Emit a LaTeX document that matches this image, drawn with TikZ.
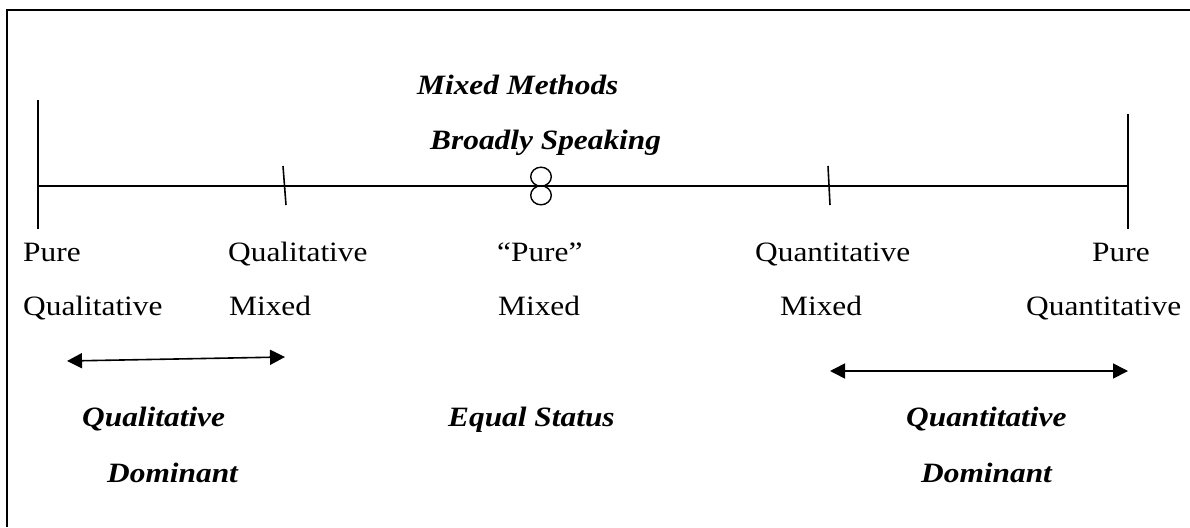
\documentclass[tikz,border=0pt]{standalone}
\usepackage{fontspec}
\usepackage{graphicx}
\setmainfont{Liberation Serif}
\usetikzlibrary{arrows.meta}
\newcommand\sxx[1]{\scalebox{1.12}[1]{#1}}
\tikzset{
  lbl/.style={anchor=base west, inner sep=0pt, font=\fontsize{28}{32}\selectfont},
  bilbl/.style={lbl, font=\fontsize{28}{32}\selectfont\bfseries\itshape},
  ln/.style={line width=1.6pt, black},
  dbl/.style={line width=1.6pt, {Triangle[length=15pt,width=15pt]}-{Triangle[length=15pt,width=15pt]}}
}
\begin{document}
\begin{tikzpicture}[x=1pt,y=-1pt]
\useasboundingbox (0,0) rectangle (1190,527);
% frame (left and top edges visible)
\draw[line width=2.5pt] (7,527) -- (7,10) -- (1190,10);
% main axis
\coordinate (L) at (38,186);
\coordinate (R) at (1128,186);
\draw[ln] (L) -- (R);
\coordinate (Lt) at (38,100); \coordinate (Lb) at (38,229);
\draw[ln] (Lt) -- (Lb);
\coordinate (Rt) at (1128,114); \coordinate (Rb) at (1128,229);
\draw[ln] (Rt) -- (Rb);
\coordinate (T1t) at (283,166); \coordinate (T1b) at (286,205);
\draw[ln] (T1t) -- (T1b);
\coordinate (T2t) at (828,166); \coordinate (T2b) at (830,205);
\draw[ln] (T2t) -- (T2b);
% center symbol
\draw[line width=1.4pt] (541,176.7) ellipse [x radius=10.3, y radius=9.5];
\draw[line width=1.4pt] (541,195.3) ellipse [x radius=10.3, y radius=9.5];
% top labels
\node[bilbl] (mm) at (417,94) {\sxx{Mixed Methods}};
\node[bilbl] (bs) at (430,149) {\sxx{Broadly Speaking}};
% row labels
\node[lbl] (p1) at (23,261) {\sxx{Pure}};
\node[lbl] (q1) at (23,315) {\sxx{Qualitative}};
\node[lbl] (p2) at (228,261) {\sxx{Qualitative}};
\node[lbl] (q2) at (229,315) {\sxx{Mixed}};
\node[lbl] (p3) at (497,261) {\sxx{“Pure”}};
\node[lbl] (q3) at (498,315) {\sxx{Mixed}};
\node[lbl] (p4) at (755,261) {\sxx{Quantitative}};
\node[lbl] (q4) at (780,315) {\sxx{Mixed}};
\node[lbl] (p5) at (1092,261) {\sxx{Pure}};
\node[lbl] (q5) at (1026,315) {\sxx{Quantitative}};
% arrows
\coordinate (a1) at (67,361); \coordinate (a2) at (285,357);
\draw[dbl] (a1) -- (a2);
\coordinate (b1) at (830,371); \coordinate (b2) at (1128,371);
\draw[dbl] (b1) -- (b2);
% bottom labels
\node[bilbl] (qd1) at (82,426) {\sxx{Qualitative}};
\node[bilbl] (qd2) at (107,482) {\sxx{Dominant}};
\node[bilbl] (es) at (448,426) {\sxx{Equal Status}};
\node[bilbl] (nd1) at (906,426) {\sxx{Quantitative}};
\node[bilbl] (nd2) at (921,482) {\sxx{Dominant}};
\end{tikzpicture}
\end{document}
